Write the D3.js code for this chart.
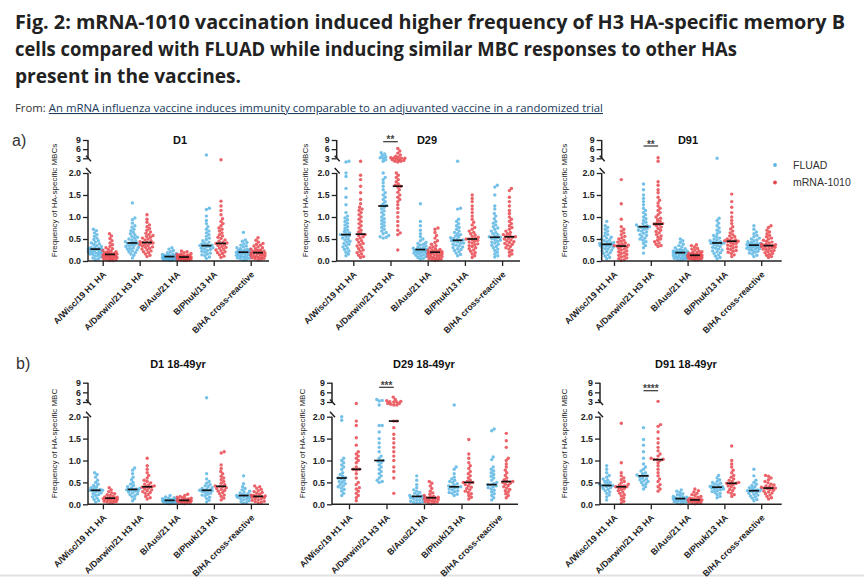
<!DOCTYPE html>
<html><head><meta charset="utf-8">
<script src="https://cdn.jsdelivr.net/npm/d3@7"></script>
<style>body{margin:0;background:#fff;overflow:hidden}</style>
</head><body><svg id="c" width="864" height="578"></svg>
<script>
// ---------- labels ----------
const figTitle = ["Fig. 2: mRNA-1010 vaccination induced higher frequency of H3 HA-specific memory B",
  "cells compared with FLUAD while inducing similar MBC responses to other HAs",
  "present in the vaccines."];
const sourceLink = "An mRNA influenza vaccine induces immunity comparable to an adjuvanted vaccine in a randomized trial";
const categories = ["A/Wisc/19 H1 HA","A/Darwin/21 H3 HA","B/Aus/21 HA","B/Phuk/13 HA","B/HA cross-reactive"];
const groups = ["FLUAD","mRNA-1010"];
const panelTitles = ["D1","D29","D91","D1 18-49yr","D29 18-49yr","D91 18-49yr"];
const yTitles = ["Frequency of HA-specific MBCs","Frequency of HA-specific MBC"];
const lowTicks = [0,0.5,1.0,1.5,2.0];
const highTicks = [3,6,9];
const significance = [null,"**","**",null,"***","****"];

// ---------- data (a) all ages ----------
const aD1_FLUAD = [
 [0.72,0.69,0.64,0.6,0.56,0.52,0.49,0.46,0.43,0.41,0.39,0.37,0.35,0.33,0.31,0.3,0.29,0.28,0.27,0.27,0.26,0.25,0.24,0.23,0.22,0.21,0.2,0.19,0.18,0.17,0.16,0.15,0.13,0.11,0.09,0.07,0.05,0.03],
 [1.32,0.98,0.94,0.86,0.8,0.77,0.72,0.69,0.65,0.62,0.59,0.56,0.54,0.52,0.5,0.48,0.46,0.44,0.42,0.41,0.4,0.39,0.37,0.36,0.34,0.33,0.31,0.3,0.28,0.27,0.25,0.23,0.21,0.19,0.16,0.13,0.07],
 [0.3,0.27,0.24,0.21,0.19,0.17,0.16,0.15,0.14,0.13,0.12,0.12,0.11,0.11,0.1,0.1,0.1,0.09,0.09,0.09,0.08,0.08,0.08,0.07,0.07,0.06,0.06,0.05,0.05,0.04,0.04,0.03,0.03,0.02,0.02,0.01],
 [4.1,1.2,1.17,1.02,0.92,0.85,0.78,0.72,0.68,0.64,0.6,0.56,0.52,0.49,0.46,0.43,0.41,0.39,0.37,0.36,0.35,0.34,0.33,0.32,0.3,0.29,0.27,0.26,0.24,0.22,0.2,0.18,0.16,0.14,0.12,0.09,0.06],
 [0.65,0.48,0.45,0.42,0.39,0.36,0.34,0.32,0.3,0.28,0.27,0.26,0.25,0.24,0.23,0.22,0.21,0.2,0.2,0.19,0.18,0.17,0.16,0.15,0.14,0.13,0.12,0.11,0.1,0.09,0.08,0.07,0.06,0.05,0.03,0.02]];
const aD1_mRNA = [
 [0.62,0.57,0.51,0.46,0.41,0.37,0.33,0.3,0.28,0.26,0.24,0.22,0.21,0.2,0.19,0.18,0.17,0.16,0.16,0.15,0.15,0.14,0.13,0.12,0.12,0.11,0.1,0.09,0.08,0.08,0.07,0.06,0.05,0.04,0.03,0.02,0.01,0.01],
 [1.05,0.95,0.88,0.82,0.78,0.74,0.7,0.66,0.63,0.6,0.58,0.56,0.54,0.52,0.5,0.48,0.46,0.44,0.43,0.42,0.41,0.4,0.38,0.37,0.35,0.34,0.32,0.31,0.29,0.27,0.25,0.23,0.21,0.19,0.16,0.13,0.1],
 [0.23,0.21,0.19,0.17,0.16,0.15,0.14,0.13,0.12,0.12,0.11,0.11,0.1,0.1,0.1,0.09,0.09,0.09,0.09,0.08,0.08,0.08,0.07,0.07,0.06,0.06,0.05,0.05,0.04,0.04,0.03,0.03,0.02,0.02,0.01,0.01],
 [2.9,1.36,1.25,1.15,1.05,0.96,0.9,0.85,0.8,0.75,0.72,0.68,0.64,0.6,0.57,0.54,0.51,0.48,0.45,0.43,0.41,0.4,0.39,0.37,0.35,0.33,0.31,0.29,0.27,0.25,0.23,0.21,0.19,0.17,0.14,0.11,0.08],
 [0.53,0.47,0.43,0.4,0.38,0.36,0.34,0.32,0.3,0.28,0.27,0.25,0.24,0.23,0.22,0.21,0.2,0.19,0.19,0.18,0.17,0.16,0.15,0.14,0.13,0.12,0.11,0.1,0.09,0.08,0.07,0.06,0.05,0.04,0.03]];
const aD29_FLUAD = [
 [2.8,2.75,2.0,1.92,1.65,1.45,1.28,1.1,1.02,0.98,0.94,0.9,0.86,0.82,0.78,0.74,0.7,0.67,0.64,0.62,0.6,0.59,0.57,0.55,0.52,0.5,0.48,0.45,0.43,0.4,0.38,0.35,0.32,0.29,0.26,0.23,0.2,0.16,0.12],
 [4.8,4.4,3.9,3.5,3.2,3.0,2.9,2.8,2.0,1.9,1.85,1.78,1.7,1.62,1.55,1.5,1.45,1.4,1.35,1.3,1.27,1.25,1.22,1.18,1.14,1.1,1.05,1.0,0.96,0.92,0.88,0.84,0.8,0.76,0.72,0.68,0.65,0.62,0.58,0.55,0.54,0.52],
 [1.3,0.9,0.8,0.7,0.62,0.55,0.5,0.46,0.42,0.4,0.38,0.36,0.34,0.32,0.3,0.29,0.28,0.27,0.26,0.26,0.25,0.24,0.23,0.22,0.21,0.2,0.19,0.18,0.17,0.16,0.14,0.13,0.11,0.1,0.08,0.06,0.04],
 [2.8,1.2,1.18,0.95,0.9,0.85,0.8,0.76,0.72,0.68,0.65,0.62,0.6,0.57,0.55,0.53,0.51,0.49,0.48,0.47,0.46,0.45,0.43,0.41,0.4,0.38,0.36,0.34,0.32,0.3,0.28,0.26,0.24,0.21,0.18,0.15,0.12],
 [1.72,1.68,1.5,1.25,1.18,1.08,1.02,0.96,0.9,0.86,0.82,0.78,0.75,0.72,0.68,0.65,0.62,0.6,0.57,0.55,0.54,0.53,0.51,0.49,0.47,0.45,0.43,0.41,0.38,0.36,0.33,0.3,0.27,0.24,0.2,0.16,0.12,0.09]];
const aD29_mRNA = [
 [2.8,1.95,1.85,1.7,1.55,1.4,1.3,1.22,1.18,1.15,1.1,1.05,1.0,0.95,0.9,0.85,0.8,0.75,0.7,0.66,0.62,0.6,0.58,0.55,0.52,0.49,0.46,0.43,0.4,0.37,0.34,0.31,0.28,0.25,0.22,0.19,0.16,0.13,0.1,0.08],
 [6.2,5.4,4.7,4.1,3.7,3.4,3.2,3.1,3.0,3.0,2.95,2.9,2.9,2.85,2.8,2.8,2.75,2.0,1.95,1.9,1.85,1.8,1.75,1.72,1.7,1.68,1.62,1.56,1.5,1.45,1.4,1.35,1.28,1.2,1.1,1.0,0.9,0.8,0.7,0.64,0.6,0.25],
 [0.75,0.72,0.65,0.58,0.52,0.46,0.42,0.38,0.35,0.32,0.3,0.28,0.26,0.25,0.24,0.23,0.22,0.21,0.2,0.2,0.19,0.18,0.17,0.16,0.15,0.14,0.13,0.12,0.11,0.1,0.09,0.08,0.07,0.06,0.05,0.04,0.03,0.02,0.01],
 [1.5,1.42,1.35,1.25,1.18,1.1,1.02,0.95,0.88,0.82,0.76,0.72,0.68,0.65,0.62,0.59,0.56,0.54,0.52,0.5,0.5,0.49,0.47,0.45,0.43,0.41,0.39,0.37,0.35,0.33,0.3,0.28,0.25,0.22,0.19,0.16,0.12,0.08],
 [1.65,1.6,1.45,1.35,1.25,1.15,1.08,1.0,0.95,0.9,0.85,0.8,0.76,0.72,0.68,0.65,0.62,0.6,0.58,0.56,0.55,0.54,0.52,0.5,0.48,0.46,0.44,0.42,0.4,0.38,0.36,0.33,0.3,0.27,0.24,0.2,0.16,0.12]];
const aD91_FLUAD = [
 [0.9,0.8,0.76,0.72,0.68,0.64,0.6,0.57,0.54,0.52,0.5,0.48,0.46,0.44,0.42,0.41,0.4,0.39,0.38,0.38,0.37,0.36,0.35,0.34,0.33,0.31,0.3,0.28,0.27,0.25,0.23,0.21,0.19,0.17,0.14,0.11,0.08,0.05],
 [1.75,1.62,1.5,1.42,1.35,1.28,1.2,1.15,1.1,1.05,1.0,0.96,0.92,0.88,0.85,0.82,0.8,0.79,0.78,0.77,0.76,0.74,0.72,0.7,0.68,0.66,0.63,0.6,0.58,0.55,0.52,0.5,0.47,0.44,0.4,0.35,0.3,0.18],
 [0.5,0.46,0.42,0.38,0.35,0.32,0.3,0.28,0.26,0.25,0.24,0.23,0.22,0.21,0.2,0.2,0.19,0.19,0.18,0.17,0.16,0.15,0.14,0.13,0.12,0.11,0.1,0.09,0.08,0.07,0.06,0.05,0.04,0.03,0.02],
 [3.0,0.97,0.92,0.86,0.8,0.75,0.7,0.66,0.62,0.58,0.55,0.52,0.5,0.48,0.46,0.44,0.43,0.42,0.41,0.41,0.4,0.39,0.37,0.35,0.33,0.31,0.29,0.27,0.25,0.23,0.21,0.19,0.17,0.14,0.11,0.08,0.05],
 [0.8,0.72,0.66,0.62,0.58,0.55,0.52,0.5,0.48,0.46,0.44,0.42,0.41,0.4,0.39,0.38,0.37,0.36,0.36,0.35,0.34,0.33,0.32,0.31,0.3,0.29,0.28,0.27,0.25,0.24,0.22,0.2,0.18,0.16,0.13,0.1]];
const aD91_mRNA = [
 [1.85,1.3,0.95,0.78,0.72,0.68,0.64,0.6,0.56,0.53,0.5,0.47,0.45,0.43,0.41,0.39,0.37,0.36,0.35,0.34,0.34,0.33,0.31,0.29,0.27,0.25,0.23,0.21,0.19,0.17,0.15,0.13,0.11,0.09,0.07,0.05,0.03,0.01],
 [3.2,2.8,1.8,1.72,1.62,1.55,1.45,1.38,1.32,1.25,1.2,1.15,1.1,1.05,1.0,0.97,0.94,0.9,0.87,0.85,0.84,0.83,0.8,0.77,0.74,0.7,0.67,0.64,0.6,0.57,0.54,0.5,0.47,0.44,0.41,0.38,0.35,0.33],
 [0.37,0.35,0.32,0.29,0.27,0.25,0.23,0.21,0.2,0.19,0.18,0.17,0.16,0.15,0.14,0.14,0.13,0.13,0.12,0.12,0.11,0.1,0.1,0.09,0.08,0.08,0.07,0.06,0.06,0.05,0.04,0.04,0.03,0.02],
 [1.52,1.35,1.22,1.1,1.0,0.92,0.85,0.78,0.73,0.68,0.64,0.6,0.57,0.55,0.52,0.5,0.48,0.47,0.46,0.45,0.45,0.44,0.42,0.4,0.38,0.36,0.34,0.32,0.3,0.28,0.26,0.24,0.22,0.2,0.17,0.14,0.1],
 [0.8,0.76,0.7,0.66,0.62,0.58,0.55,0.52,0.5,0.47,0.45,0.43,0.41,0.39,0.38,0.37,0.36,0.35,0.35,0.34,0.33,0.32,0.31,0.3,0.28,0.27,0.26,0.24,0.23,0.21,0.19,0.17,0.15,0.13,0.1,0.08]];

// ---------- data (b) 18-49yr ----------
const bD1_FLUAD = [
 [0.72,0.68,0.62,0.55,0.5,0.46,0.43,0.4,0.38,0.36,0.34,0.33,0.32,0.32,0.31,0.3,0.28,0.26,0.24,0.22,0.2,0.17,0.14,0.11,0.08,0.05],
 [0.83,0.78,0.7,0.62,0.56,0.5,0.46,0.43,0.4,0.38,0.36,0.35,0.34,0.34,0.33,0.32,0.31,0.3,0.28,0.26,0.24,0.22,0.2,0.17,0.13,0.08],
 [0.2,0.17,0.15,0.14,0.13,0.12,0.11,0.1,0.1,0.09,0.09,0.09,0.09,0.08,0.08,0.08,0.07,0.07,0.06,0.05,0.05,0.04,0.03,0.02,0.01],
 [4.3,0.7,0.58,0.52,0.48,0.45,0.42,0.4,0.38,0.36,0.34,0.33,0.32,0.32,0.31,0.3,0.29,0.27,0.25,0.23,0.21,0.19,0.16,0.13,0.09,0.05],
 [0.65,0.47,0.4,0.36,0.33,0.3,0.28,0.26,0.24,0.22,0.21,0.2,0.2,0.19,0.18,0.17,0.16,0.15,0.13,0.12,0.1,0.08,0.06,0.04,0.02]];
const bD1_mRNA = [
 [0.38,0.33,0.29,0.26,0.24,0.22,0.2,0.18,0.17,0.16,0.15,0.14,0.14,0.13,0.13,0.12,0.11,0.1,0.09,0.08,0.07,0.06,0.05,0.04,0.02],
 [1.05,0.88,0.8,0.72,0.66,0.6,0.55,0.52,0.49,0.46,0.44,0.42,0.4,0.4,0.39,0.37,0.35,0.33,0.31,0.29,0.27,0.25,0.22,0.18,0.15,0.12],
 [0.23,0.2,0.18,0.16,0.15,0.14,0.13,0.12,0.11,0.1,0.1,0.09,0.09,0.09,0.08,0.08,0.07,0.07,0.06,0.05,0.04,0.03,0.02,0.01],
 [1.2,1.17,0.9,0.82,0.75,0.7,0.64,0.6,0.56,0.52,0.48,0.45,0.42,0.41,0.4,0.38,0.36,0.34,0.32,0.3,0.27,0.24,0.21,0.18,0.14,0.1],
 [0.42,0.4,0.37,0.34,0.31,0.29,0.27,0.25,0.23,0.21,0.2,0.19,0.18,0.18,0.17,0.16,0.15,0.13,0.12,0.1,0.09,0.07,0.06,0.04,0.03]];
const bD29_FLUAD = [
 [2.0,1.92,1.05,1.0,0.95,0.9,0.85,0.8,0.72,0.68,0.64,0.61,0.6,0.58,0.55,0.52,0.5,0.47,0.45,0.42,0.4,0.37,0.34,0.3,0.25,0.2],
 [3.8,3.5,3.3,2.8,1.8,1.8,1.65,1.5,1.4,1.3,1.2,1.1,1.05,1.0,0.98,0.95,0.9,0.85,0.8,0.75,0.7,0.65,0.6,0.55,0.52,0.5],
 [0.65,0.55,0.45,0.38,0.33,0.3,0.27,0.25,0.22,0.2,0.19,0.18,0.18,0.17,0.16,0.15,0.13,0.12,0.1,0.09,0.07,0.06,0.04,0.03,0.02],
 [2.8,0.85,0.8,0.7,0.62,0.58,0.55,0.52,0.5,0.47,0.44,0.42,0.4,0.4,0.39,0.37,0.35,0.33,0.31,0.29,0.27,0.25,0.23,0.2],
 [1.72,1.68,1.08,1.02,0.85,0.8,0.76,0.72,0.68,0.64,0.6,0.55,0.5,0.47,0.45,0.44,0.42,0.4,0.38,0.35,0.32,0.28,0.24,0.2,0.15,0.1]];
const bD29_mRNA = [
 [2.9,1.9,1.8,1.52,1.35,1.2,1.15,1.1,1.05,1.0,0.95,0.85,0.8,0.8,0.78,0.7,0.6,0.5,0.45,0.38,0.35,0.3,0.25,0.2,0.15,0.08],
 [4.5,3.8,3.4,3.2,3.1,3.0,3.0,2.9,2.9,2.85,2.8,2.8,1.9,1.9,1.75,1.6,1.5,1.4,1.3,1.2,1.1,1.0,0.85,0.75,0.6,0.25],
 [0.52,0.48,0.42,0.36,0.3,0.26,0.23,0.2,0.18,0.17,0.16,0.15,0.15,0.14,0.13,0.12,0.11,0.1,0.09,0.08,0.07,0.06,0.05,0.04,0.02,0.01],
 [1.48,1.15,1.05,0.95,0.88,0.82,0.75,0.7,0.65,0.6,0.55,0.52,0.5,0.5,0.48,0.45,0.42,0.39,0.36,0.33,0.3,0.27,0.24,0.2,0.16,0.12],
 [1.62,1.45,1.3,1.05,1.0,0.92,0.85,0.78,0.72,0.66,0.6,0.56,0.52,0.52,0.5,0.48,0.46,0.43,0.4,0.37,0.34,0.31,0.28,0.24,0.2,0.15]];
const bD91_FLUAD = [
 [0.88,0.8,0.72,0.66,0.62,0.58,0.55,0.52,0.5,0.48,0.46,0.44,0.43,0.43,0.42,0.4,0.38,0.36,0.34,0.31,0.28,0.25,0.21,0.17,0.1],
 [1.75,1.48,1.35,1.2,1.05,0.92,0.85,0.8,0.76,0.72,0.7,0.67,0.65,0.65,0.63,0.6,0.58,0.56,0.54,0.52,0.5,0.47,0.44,0.4,0.35],
 [0.33,0.3,0.27,0.24,0.22,0.2,0.18,0.17,0.16,0.15,0.14,0.13,0.13,0.12,0.12,0.11,0.1,0.09,0.08,0.07,0.06,0.05,0.04,0.02,0.01],
 [0.66,0.6,0.56,0.52,0.5,0.48,0.46,0.44,0.42,0.41,0.4,0.39,0.39,0.38,0.37,0.35,0.34,0.33,0.31,0.29,0.27,0.25,0.22,0.18,0.15],
 [0.8,0.65,0.55,0.5,0.46,0.43,0.4,0.38,0.36,0.34,0.33,0.32,0.31,0.31,0.3,0.29,0.27,0.25,0.23,0.21,0.19,0.17,0.14,0.11,0.08]];
const bD91_mRNA = [
 [1.85,0.95,0.72,0.65,0.6,0.56,0.52,0.49,0.46,0.44,0.42,0.41,0.4,0.4,0.38,0.36,0.34,0.31,0.28,0.25,0.22,0.19,0.15,0.11,0.07,0.03],
 [3.2,1.82,1.78,1.65,1.5,1.4,1.3,1.22,1.15,1.1,1.05,1.03,1.02,1.02,1.0,0.95,0.88,0.8,0.72,0.65,0.58,0.52,0.45,0.4,0.35,0.3],
 [0.35,0.31,0.28,0.25,0.22,0.2,0.18,0.16,0.14,0.13,0.12,0.11,0.1,0.1,0.1,0.09,0.08,0.07,0.06,0.05,0.04,0.03,0.02,0.01],
 [1.33,1.0,0.92,0.85,0.78,0.72,0.66,0.62,0.58,0.55,0.52,0.5,0.48,0.48,0.47,0.45,0.42,0.4,0.37,0.34,0.31,0.28,0.25,0.22,0.18],
 [0.66,0.64,0.6,0.56,0.52,0.49,0.46,0.44,0.42,0.4,0.39,0.38,0.37,0.37,0.36,0.34,0.32,0.3,0.28,0.26,0.24,0.21,0.18,0.15,0.12]];

// ---------- medians ----------
const aD1_FLUAD_med = [0.27,0.41,0.10,0.35,0.20], aD1_mRNA_med = [0.15,0.42,0.09,0.40,0.19];
const aD29_FLUAD_med = [0.60,1.25,0.26,0.47,0.54], aD29_mRNA_med = [0.61,1.70,0.20,0.50,0.55];
const aD91_FLUAD_med = [0.38,0.78,0.19,0.41,0.36], aD91_mRNA_med = [0.34,0.84,0.13,0.45,0.35];
const bD1_FLUAD_med = [0.32,0.34,0.09,0.32,0.20], bD1_mRNA_med = [0.14,0.40,0.09,0.41,0.18];
const bD29_FLUAD_med = [0.60,1.00,0.18,0.40,0.45], bD29_mRNA_med = [0.80,1.90,0.15,0.50,0.52];
const bD91_FLUAD_med = [0.43,0.65,0.13,0.39,0.31], bD91_mRNA_med = [0.40,1.02,0.10,0.48,0.37];

// ---------- assembly ----------
const panelData = [
 {f:aD1_FLUAD, m:aD1_mRNA, mf:aD1_FLUAD_med, mm:aD1_mRNA_med},
 {f:aD29_FLUAD, m:aD29_mRNA, mf:aD29_FLUAD_med, mm:aD29_mRNA_med},
 {f:aD91_FLUAD, m:aD91_mRNA, mf:aD91_FLUAD_med, mm:aD91_mRNA_med},
 {f:bD1_FLUAD, m:bD1_mRNA, mf:bD1_FLUAD_med, mm:bD1_mRNA_med},
 {f:bD29_FLUAD, m:bD29_mRNA, mf:bD29_FLUAD_med, mm:bD29_mRNA_med},
 {f:bD91_FLUAD, m:bD91_mRNA, mf:bD91_FLUAD_med, mm:bD91_mRNA_med}];

// ---------- layout (positions only) ----------
const rowA = {y0:261, y2:173, y3:158.3, y9:140, ty:144};
const rowB = {y0:504.3, y2:416.7, y3:402, y9:382.7, ty:368};
const layout = [
 Object.assign({x0:88, x1:269, c0:102.7, step:37, tx:180, ytx:55, sigY:null, yt:0}, rowA),
 Object.assign({x0:336.7, x1:520, c0:353.3, step:37.2, tx:427, ytx:305.5, sigY:141.7, yt:0}, rowA),
 Object.assign({x0:601.7, x1:781.7, c0:614, step:36.8, tx:688, ytx:565, sigY:146, yt:0}, rowA),
 Object.assign({x0:88, x1:269, c0:102.9, step:37, tx:178, ytx:55, sigY:null, yt:1}, rowB),
 Object.assign({x0:332, x1:518, c0:349, step:37.5, tx:424, ytx:302.5, sigY:387.3, yt:1}, rowB),
 Object.assign({x0:600, x1:781.7, c0:614, step:36.8, tx:686, ytx:565, sigY:390.7, yt:1}, rowB)];

const COL = {FLUAD:"#5cb6e4", mRNA:"#e8474e"};
const FONT = "'Liberation Sans', Arial, Helvetica, sans-serif";
const svg = d3.select("#c");

// header
const head = svg.append("g").attr("font-family","'Open Sans', 'Noto Sans', sans-serif").attr("fill","#222");
const titleW = [830, 722, 226];
figTitle.forEach((t,i)=>{
  head.append("text").attr("x",15).attr("y",29+i*27).attr("font-size",19.5).attr("font-weight",700)
    .attr("textLength",titleW[i]).attr("lengthAdjust","spacingAndGlyphs").text(t);
});
const src = head.append("text").attr("x",15).attr("y",112).attr("font-size",10.5).attr("fill","#333")
  .attr("textLength",588).attr("lengthAdjust","spacingAndGlyphs");
src.append("tspan").text("From: ");
src.append("tspan").attr("text-decoration","underline").attr("fill","#1a3a5c").text(sourceLink);

svg.append("text").attr("x",12).attr("y",146).attr("font-family",FONT).attr("font-size",16).attr("fill","#333").text("a)");
svg.append("text").attr("x",16).attr("y",369).attr("font-family",FONT).attr("font-size",16).attr("fill","#333").text("b)");
svg.append("line").attr("x1",0).attr("x2",864).attr("y1",575.5).attr("y2",575.5).attr("stroke","#e2e2e2").attr("stroke-width",2);

// beeswarm placement (deterministic)
function swarm(vals, y, cx, r, maxW) {
  const pts = vals.map(v=>({v, y:y(v)})).sort((a,b)=>a.v-b.v);
  const placed = [];
  const d = 2*r*0.85;
  pts.forEach(p=>{
    let best = null, bestScore = -1;
    for (let k=0; k<=Math.floor(maxW/0.5)*2; k++) {
      const off = (k%2 ? 1 : -1) * Math.ceil(k/2) * 0.5;
      let minD = Infinity;
      for (const q of placed) {
        const dy = q.y - p.y; if (Math.abs(dy) >= d) continue;
        const dist = Math.hypot(q.off-off, dy); if (dist < minD) minD = dist;
      }
      if (minD >= d) { best = off; bestScore = Infinity; break; }
      if (minD > bestScore) { bestScore = minD; best = off; }
    }
    p.off = best; placed.push(p);
  });
  return pts.map(p=>({v:p.v, x:cx+p.off, y:p.y}));
}

layout.forEach((L, pi)=>{
  const D = panelData[pi];
  const g = svg.append("g").attr("font-family",FONT);
  const y = d3.scaleLinear().domain([0,2,3,9]).range([L.y0, L.y2, L.y3, L.y9]);
  const x = d3.scalePoint().domain(categories).range([L.c0, L.c0+4*L.step]);
  const off = 7.3, r = 1.7;

  categories.forEach((c,ci)=>{
    [[D.f, COL.FLUAD, -off],[D.m, COL.mRNA, off]].forEach(([arr,col,o])=>{
      const pts = swarm(arr[ci], y, x(c)+o, r, 7);
      g.append("g").selectAll("circle").data(pts).join("circle")
        .attr("cx",d=>d.x).attr("cy",d=>d.y).attr("r",r).attr("fill",col).attr("fill-opacity",0.85);
    });
  });
  categories.forEach((c,ci)=>{
    [[D.mf[ci], -off],[D.mm[ci], off]].forEach(([m,o])=>{
      g.append("line").attr("x1",x(c)+o-5).attr("x2",x(c)+o+5).attr("y1",y(m)).attr("y2",y(m))
        .attr("stroke","#111").attr("stroke-width",1.7);
    });
  });

  const ax1 = g.append("g").attr("transform",`translate(${L.x0},0)`)
    .call(d3.axisLeft(y).tickValues(lowTicks).tickFormat(d3.format(".1f")).tickSize(5).tickPadding(2));
  const ax2 = g.append("g").attr("transform",`translate(${L.x0},0)`)
    .call(d3.axisLeft(y).tickValues(highTicks).tickFormat(d3.format("d")).tickSize(5).tickPadding(2));
  [ax1,ax2].forEach(a=>{
    a.select(".domain").remove();
    a.selectAll("line").attr("stroke","#222").attr("stroke-width",1.3);
    a.selectAll("text").attr("font-size",8.8).attr("font-weight",700).attr("fill","#222").attr("font-family",FONT);
  });
  const seg = (pts)=> g.append("path").attr("d",d3.line()(pts)).attr("stroke","#222").attr("stroke-width",1.5).attr("fill","none");
  seg([[L.x0,L.y0],[L.x0,y(2)]]);
  seg([[L.x0,y(9)],[L.x0,y(3)]]);
  seg([[L.x0-2,y(3)-2.5],[L.x0+3,y(3)+3]]);
  seg([[L.x0-2,y(2)-5],[L.x0+3,y(2)+0.5]]);

  const axx = g.append("g").attr("transform",`translate(0,${L.y0})`)
    .call(d3.axisBottom(x).tickSize(5).tickFormat(""));
  axx.select(".domain").remove();
  axx.selectAll("line").attr("stroke","#222").attr("stroke-width",1.3);
  seg([[L.x0,L.y0],[L.x1,L.y0]]);
  g.append("g").selectAll("text").data(categories).join("text")
    .attr("transform",d=>`translate(${x(d)+4},${L.y0+14}) rotate(-45)`)
    .attr("text-anchor","end").attr("font-size",8.8).attr("font-weight",700).attr("fill","#222").text(d=>d);

  g.append("text").attr("x",L.tx).attr("y",L.ty).attr("text-anchor","middle").attr("font-size",11)
    .attr("font-weight",700).attr("fill","#111").text(panelTitles[pi]);
  g.append("text").attr("transform",`translate(${L.ytx},${(L.y0+L.y9)/2}) rotate(-90)`)
    .attr("text-anchor","middle").attr("dominant-baseline","middle").attr("font-size",8)
    .attr("fill","#222").text(yTitles[L.yt]);

  if (significance[pi]) {
    const cx = x(categories[1]);
    g.append("line").attr("x1",cx-off).attr("x2",cx+off).attr("y1",L.sigY).attr("y2",L.sigY)
      .attr("stroke","#333").attr("stroke-width",1.2);
    g.append("text").attr("x",cx).attr("y",L.sigY+1.5).attr("text-anchor","middle")
      .attr("font-size",10).attr("font-weight",700).attr("fill","#444").text(significance[pi]);
  }
});

const lg = svg.append("g").attr("font-family",FONT).attr("font-size",10.5).attr("fill","#333");
[[groups[0],COL.FLUAD,165],[groups[1],COL.mRNA,182.5]].forEach(([t,c,yy])=>{
  lg.append("circle").attr("cx",775).attr("cy",yy).attr("r",1.9).attr("fill",c);
  lg.append("text").attr("x",793).attr("y",yy).attr("dy","0.35em").text(t);
});
</script></body></html>
